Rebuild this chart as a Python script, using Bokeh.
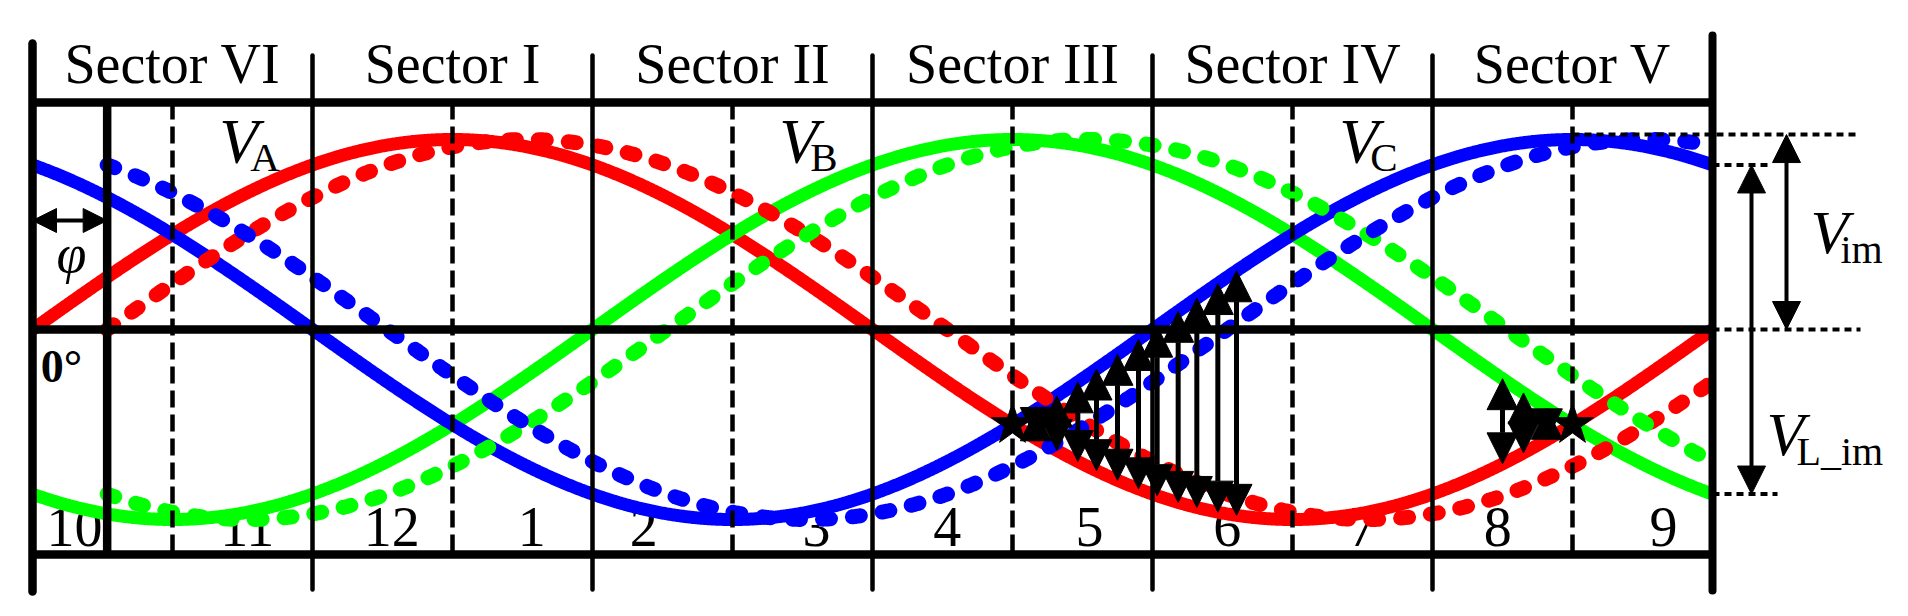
import numpy as np
from bokeh.plotting import figure
from bokeh.models import Range1d, ColumnDataSource, Arrow, NormalHead
from bokeh.core.properties import value
from bokeh.embed import file_html
from bokeh.resources import INLINE

# ---------------- data ----------------
sector_names = ["Sector VI", "Sector I", "Sector II", "Sector III", "Sector IV", "Sector V"]
sector_centers_deg = [30, 90, 150, 210, 270, 330]
sector_bounds_deg = [60, 120, 180, 240, 300]
half_sector_deg = [30, 90, 150, 210, 270, 330]
segment_labels = ["10", "11", "12", "1", "2", "3", "4", "5", "6", "7", "8", "9"]
segment_label_deg = [9, 46, 77, 107, 131, 168, 196, 226.5, 256, 285, 314, 349.5]
phase_names = ["A", "B", "C"]
phase_label_deg = [40, 160, 280]
phase_shift_deg = [0, -120, 120]          # V_A, V_B, V_C
phase_colors = ["#ff0000", "#00ff00", "#0000ff"]
amplitude = 1.0
phi_deg = 16
arrows_a_deg = [215, 219.5, 224, 228, 232.5, 237, 241, 245.5, 249.5, 254, 258]   # between V_A and V_C
arrows_b_deg = [315, 319.5, 324.5]                                               # between V_B and V_A
star_deg = [210, 330]

# ---------------- layout helpers (reference pixels -> data) ----------------
PX_PER_DEG = 1680.0 / 360.0
PX_PER_UNIT = 190.0
W, H = 1892, 600
X0 = -32.0 / PX_PER_DEG
X1 = X0 + W / PX_PER_DEG
Y1 = 329.0 / PX_PER_UNIT
Y0 = Y1 - H / PX_PER_UNIT


def vy(py):
    return (329.0 - py) / PX_PER_UNIT


def ty(py, size):
    # text baseline correction
    return vy(py - 0.35 * size)


def dx(px):
    return (px - 32.0) / PX_PER_DEG


def wave(theta, shift, delay=0.0):
    return amplitude * np.sin(np.radians(np.asarray(theta) - delay + shift))


FONT = value("Liberation Serif")

p = figure(width=W, height=H, x_range=Range1d(X0, X1), y_range=Range1d(Y0, Y1),
           output_backend="svg", toolbar_location=None, min_border=0,
           x_axis_location=None, y_axis_location=None,
           background_fill_color="white", border_fill_color="white")
p.outline_line_color = None
p.xgrid.visible = False
p.ygrid.visible = False

TOP = vy(102)
BOT = vy(554)

# segment numbers (under the curves)
r = p.text(x=segment_label_deg, y=[ty(546, 56)] * len(segment_labels), text=segment_labels,
           text_font=FONT, text_font_size="56px", text_align="center",
           text_baseline="alphabetic", text_color="black")
r.level = "underlay"

# solid curves
theta = np.linspace(0, 360, 1441)
for shift, col in zip(phase_shift_deg, phase_colors):
    p.line(theta, wave(theta, shift), line_color=col, line_width=13)

# dashed (delayed) curves
theta_d = np.linspace(phi_deg, 360, 1441)
for shift, col in zip(phase_shift_deg, phase_colors):
    p.line(theta_d, wave(theta_d, shift, phi_deg), line_color=col, line_width=15,
           line_dash="8 22", line_cap="round")

# frame lines
p.segment(x0=[0, 0, 0], y0=[TOP, 0, BOT], x1=[360, 360, 360], y1=[TOP, 0, BOT],
          line_color="black", line_width=8.5)
p.segment(x0=[0], y0=[vy(43)], x1=[0], y1=[vy(591)], line_color="black",
          line_width=8.5, line_cap="round")
p.segment(x0=[360], y0=[vy(35)], x1=[360], y1=[vy(590)], line_color="black",
          line_width=8, line_cap="round")
p.segment(x0=sector_bounds_deg, y0=[vy(55)] * 5, x1=sector_bounds_deg, y1=[vy(589)] * 5,
          line_color="black", line_width=4.5, line_cap="round")
p.segment(x0=half_sector_deg, y0=[TOP] * 6, x1=half_sector_deg, y1=[BOT] * 6,
          line_color="black", line_width=4.5, line_dash="17 7")
p.segment(x0=[phi_deg], y0=[TOP], x1=[phi_deg], y1=[BOT], line_color="black", line_width=8.5)

# sector labels
p.text(x=sector_centers_deg, y=[ty(83, 56)] * 6, text=sector_names, text_font=FONT,
       text_font_size="56px", text_align="center", text_baseline="alphabetic",
       text_color="black")

# phase labels V_A, V_B, V_C
p.text(x=phase_label_deg, y=[ty(163, 64)] * 3, text=["V"] * 3, text_font=FONT,
       text_font_size="64px", text_font_style="italic", text_align="left",
       text_baseline="alphabetic", text_color="black")
p.text(x=phase_label_deg, y=[ty(171, 41)] * 3, text=phase_names, text_font=FONT,
       text_font_size="41px", text_align="left", text_baseline="alphabetic",
       text_color="black", x_offset=31)

# 0 deg and phi
p.text(x=[dx(61)], y=[ty(382, 46)], text=["0°"], text_font=FONT, text_font_size="46px",
       text_font_style="bold", text_align="center", text_baseline="alphabetic")
p.text(x=[dx(71)], y=[ty(272, 54)], text=["φ"], text_font=FONT, text_font_size="54px",
       text_font_style="italic", text_align="center", text_baseline="alphabetic")

# right side dotted reference lines
vc_end = float(wave(360, phase_shift_deg[2]))
vb_end = float(wave(360, phase_shift_deg[1]))
p.segment(x0=[330, 360, 360, 360], y0=[amplitude + 0.026, vc_end, 0, vb_end],
          x1=[dx(1860), dx(1770), dx(1860), dx(1777)], y1=[amplitude + 0.026, vc_end, 0, vb_end],
          line_color="black", line_width=4, line_dash="7 5")

# right labels
p.text(x=[dx(1810), dx(1766)], y=[ty(253, 62), ty(455, 62)], text=["V", "V"], text_font=FONT,
       text_font_size="62px", text_font_style="italic", text_align="left",
       text_baseline="alphabetic")
p.text(x=[dx(1840), dx(1796)], y=[ty(263, 40), ty(465, 40)], text=["im", "L_im"], text_font=FONT,
       text_font_size="40px", text_align="left", text_baseline="alphabetic")

# stars at crossings
p.scatter(x=star_deg, y=[float(wave(d, 0)) for d in star_deg], marker="star",
          size=44, fill_color="black", line_color="black")


def head(sz):
    return NormalHead(size=sz, fill_color="black", line_color="black", line_width=1)


# arrows between V_A and V_C
src_a = ColumnDataSource(dict(x0=arrows_a_deg, y0=wave(arrows_a_deg, phase_shift_deg[0]),
                              x1=arrows_a_deg, y1=wave(arrows_a_deg, phase_shift_deg[2])))
p.add_layout(Arrow(start=head(31), end=head(31), x_start="x0", y_start="y0",
                   x_end="x1", y_end="y1", source=src_a, line_width=5, line_color="black"))
# arrows between V_B and V_A
src_b = ColumnDataSource(dict(x0=arrows_b_deg, y0=wave(arrows_b_deg, phase_shift_deg[0]),
                              x1=arrows_b_deg, y1=wave(arrows_b_deg, phase_shift_deg[1])))
p.add_layout(Arrow(start=head(31), end=head(31), x_start="x0", y_start="y0",
                   x_end="x1", y_end="y1", source=src_b, line_width=5, line_color="black"))

# phi arrow
p.add_layout(Arrow(start=head(24), end=head(24), x_start=0, y_start=vy(220),
                   x_end=phi_deg, y_end=vy(220), line_width=4, line_color="black"))
# V_im and V_L_im arrows
p.add_layout(Arrow(start=head(28), end=head(28), x_start=dx(1786), y_start=0,
                   x_end=dx(1786), y_end=amplitude + 0.026, line_width=4, line_color="black"))
p.add_layout(Arrow(start=head(28), end=head(28), x_start=dx(1751), y_start=vb_end,
                   x_end=dx(1751), y_end=vc_end, line_width=4, line_color="black"))

open("out.html", "w").write(file_html(p, INLINE))
